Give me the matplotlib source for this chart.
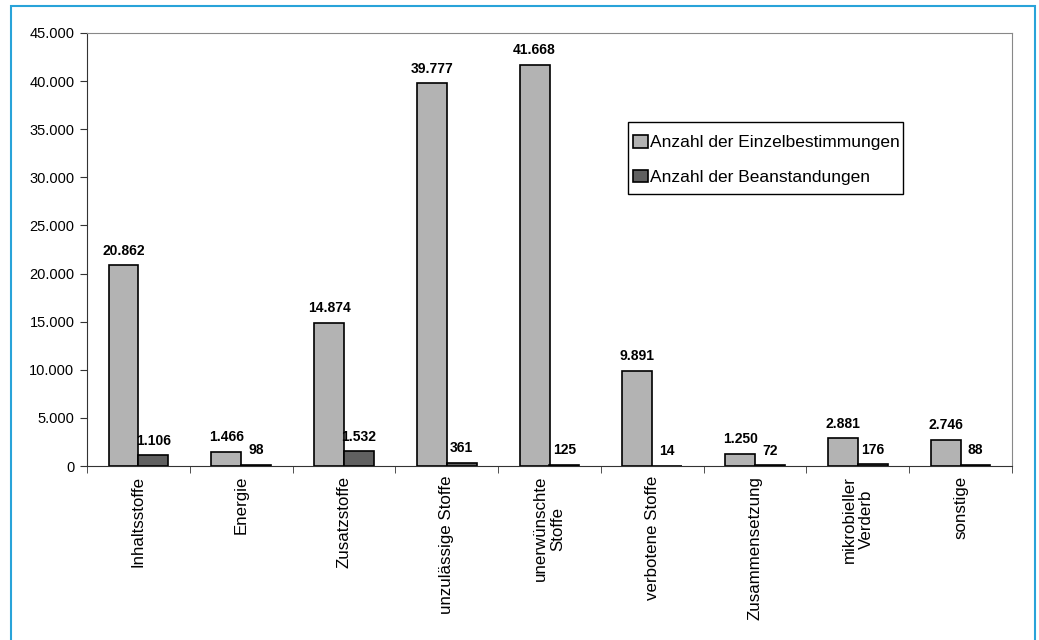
import matplotlib.pyplot as plt
import numpy as np
from matplotlib.patches import Rectangle

plt.rcParams['font.family'] = ['Liberation Sans', 'DejaVu Sans']

categories = ["Inhaltsstoffe", "Energie", "Zusatzstoffe", "unzulässige Stoffe",
              "unerwünschte\nStoffe", "verbotene Stoffe", "Zusammensetzung",
              "mikrobieller\nVerderb", "sonstige"]
einzel = [20862, 1466, 14874, 39777, 41668, 9891, 1250, 2881, 2746]
beanst = [1106, 98, 1532, 361, 125, 14, 72, 176, 88]
series_names = ["Anzahl der Einzelbestimmungen", "Anzahl der Beanstandungen"]

def fmt(v):
    return f"{v:,}".replace(",", ".")

fig = plt.figure(figsize=(10.39, 6.4), dpi=100)
ax = fig.add_axes([87/1039, 1-466/640, (1012-87)/1039, (466-33)/640])

# blue frame around the figure
fig.patches.append(Rectangle((11/1039, -0.1), (1035-11)/1039, 1.1 - 6/640,
                             transform=fig.transFigure, fill=False,
                             edgecolor="#29a3d9", linewidth=1.5))

x = np.arange(len(categories))
w = 0.29
ax.bar(x - w/2, einzel, w, color="#b3b3b3", edgecolor="black", linewidth=1.2, label=series_names[0])
ax.bar(x + w/2, beanst, w, color="#606060", edgecolor="black", linewidth=1.2, label=series_names[1])

for xi, v in zip(x, einzel):
    ax.text(xi - w/2, v + 800, fmt(v), ha="center", va="bottom", fontsize=10, fontweight="bold")
for xi, v in zip(x, beanst):
    ax.text(xi + w/2, v + 800, fmt(v), ha="center", va="bottom", fontsize=10, fontweight="bold")

ax.set_xlim(-0.5, len(categories) - 0.5)
ax.set_ylim(0, 45000)
ax.set_yticks(range(0, 45001, 5000))
ax.set_yticklabels([fmt(v) for v in range(0, 45001, 5000)], fontsize=10.5)

ax.set_xticks(x)
ax.set_xticklabels(categories, rotation=90, fontsize=12.2, va="top", ha="center", multialignment="center")
ax.tick_params(axis="x", length=0, pad=7)
ax.set_xticks(np.arange(-0.5, len(categories) + 0.5, 1), minor=True)
ax.tick_params(axis="x", which="minor", length=5, direction="out", color="#333333")
ax.tick_params(axis="y", length=5, direction="out", color="#333333", pad=4)

ax.spines["left"].set_color("#333333")
ax.spines["bottom"].set_color("#333333")
ax.spines["top"].set_color("#888888")
ax.spines["right"].set_color("#888888")

# legend (frame drawn separately to get Excel-like padding)
leg = ax.legend(loc="upper left", bbox_to_anchor=((633-87)/925, 1-(135-33)/433),
                fontsize=12.5, frameon=False,
                handlelength=0.85, handleheight=0.75, handletextpad=0.15,
                labelspacing=1.1, borderpad=0.0, borderaxespad=0.0)
ax.add_patch(Rectangle(((628-87)/925, 1-(194-33)/433), (903-628)/925, (194-122)/433,
                       transform=ax.transAxes, fill=False, edgecolor="black",
                       linewidth=1.0, zorder=5))

fig.savefig("out.png", dpi=100)
